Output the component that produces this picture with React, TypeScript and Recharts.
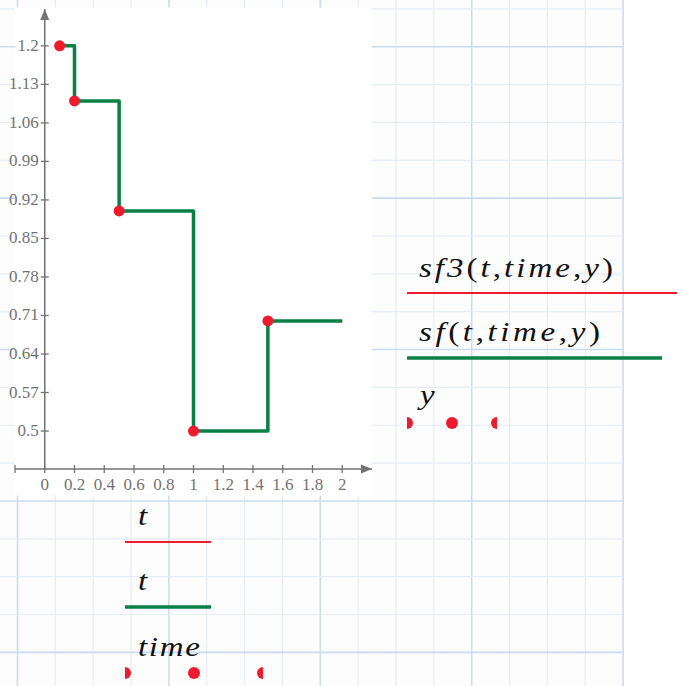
import { ComposedChart, Line, XAxis, YAxis, ReferenceLine, ReferenceDot } from 'recharts'

// sample instants and the values held from each one
const time = [0.1, 0.2, 0.5, 1, 1.5]
const y = [1.2, 1.1, 0.9, 0.5, 0.7]
const tEnd = 2

const xTicks = [-0.2, 0, 0.2, 0.4, 0.6, 0.8, 1, 1.2, 1.4, 1.6, 1.8, 2]
const yTicks = [0.5, 0.57, 0.64, 0.71, 0.78, 0.85, 0.92, 0.99, 1.06, 1.13, 1.2]

const X_DOMAIN: [number, number] = [-0.2, 2.2]
const Y_DOMAIN: [number, number] = [0.431, 1.267]

const W = 683
const H = 686
const PLOT_LEFT = 15
const PLOT_RIGHT = 372
const PLOT_TOP = 9
const AXIS_Y = 469
const X_AXIS_H = 30
const Y_AXIS_W = 1

const RED = '#ee1b2f'
const GREEN = '#0a8044'
const AXIS = '#737373'
const SERIF = 'Liberation Serif, Times New Roman, serif'
const MATH_STRETCH = 1.18

// pixel position of t = 0, where the vertical axis crosses
const axisX = PLOT_LEFT + ((0 - X_DOMAIN[0]) / (X_DOMAIN[1] - X_DOMAIN[0])) * (PLOT_RIGHT - PLOT_LEFT)

const rows = [
  ...time.map((t, i) => ({ t, sf: y[i], sf3: y[i], y: y[i] })),
  { t: tEnd, sf: y[y.length - 1], sf3: y[y.length - 1] },
]

function XTick(props: any) {
  const { x, y: ty, payload } = props
  const v = payload.value
  return (
    <g>
      <line x1={x} x2={x} y1={ty - 4} y2={ty + 4} stroke={AXIS} strokeWidth={1.3} />
      {v >= 0 && (
        <text x={x} y={ty + 21} textAnchor="middle" fill={AXIS} style={{ fontFamily: SERIF, fontSize: 17 }}>
          {String(v)}
        </text>
      )}
    </g>
  )
}

function YTick(props: any) {
  const { y: ty, payload } = props
  return (
    <g>
      <line x1={axisX - 4} x2={axisX + 4} y1={ty} y2={ty} stroke={AXIS} strokeWidth={1.3} />
      <text x={axisX - 6} y={ty + 5} textAnchor="end" fill={AXIS} style={{ fontFamily: SERIF, fontSize: 17 }}>
        {String(payload.value)}
      </text>
    </g>
  )
}

const upArrow = (p: any) => (
  <polygon points={`${p.cx},${p.cy} ${p.cx - 4.5},${p.cy + 11} ${p.cx + 4.5},${p.cy + 11}`} fill={AXIS} />
)
const rightArrow = (p: any) => (
  <polygon points={`${p.cx},${p.cy} ${p.cx - 11},${p.cy - 4.5} ${p.cx - 11},${p.cy + 4.5}`} fill={AXIS} />
)

// graph-paper worksheet background
function Paper() {
  const lines = []
  const x0 = 17.5
  const y0 = 8.9
  const step = 37.85
  const right = 622.3
  for (let k = 0; x0 + k * step <= right + 1; k++) {
    const x = x0 + k * step
    lines.push(
      <line key={'v' + k} x1={x} x2={x} y1={0} y2={H} stroke={k % 4 === 0 ? '#cadcef' : '#e4ecf5'} strokeWidth={k % 4 === 0 ? 1.6 : 1.2} />
    )
  }
  for (let k = 0; y0 + k * step <= H; k++) {
    const yy = y0 + k * step
    lines.push(
      <line key={'h' + k} x1={0} x2={right} y1={yy} y2={yy} stroke={k % 4 === 1 ? '#cadcef' : '#e4ecf5'} strokeWidth={k % 4 === 1 ? 1.6 : 1.2} />
    )
  }
  return (
    <svg width={W} height={H} style={{ position: 'absolute', left: 0, top: 0 }}>
      <rect x={0} y={0} width={right} height={H} fill="#fdfdfe" />
      {lines}
      <rect x={PLOT_LEFT} y={7.5} width={PLOT_RIGHT - PLOT_LEFT} height={488} fill="#ffffff" />
    </svg>
  )
}

// math-style label; glyphs widened a little, optionally spread to a given width
function MathLabel({ x, y: by, width, parts }: { x: number; y: number; width?: number; parts: [string, boolean][] }) {
  return (
    <g transform={`translate(${x},${by}) scale(${MATH_STRETCH},1)`}>
      <text
        x={0}
        y={0}
        fill="#111"
        style={{ fontFamily: SERIF, fontSize: 28 }}
        textLength={width ? width / MATH_STRETCH : undefined}
        lengthAdjust={width ? 'spacing' : undefined}
      >
        {parts.map(([s, it], i) => (
          <tspan key={i} style={{ fontStyle: it ? 'italic' : 'normal' }}>{s}</tspan>
        ))}
      </text>
    </g>
  )
}

function DotSample({ id, x1, x2, cy, centers }: { id: string; x1: number; x2: number; cy: number; centers: number[] }) {
  return (
    <g>
      <defs>
        <clipPath id={id}>
          <rect x={x1} y={cy - 8} width={x2 - x1} height={16} />
        </clipPath>
      </defs>
      <g clipPath={`url(#${id})`}>
        {centers.map(c => <circle key={c} cx={c} cy={cy} r={6} fill={RED} />)}
      </g>
    </g>
  )
}

function Labels() {
  return (
    <svg width={W} height={H} style={{ position: 'absolute', left: 0, top: 0 }}>
      <MathLabel x={419} y={277} width={194} parts={[['sf3', true], ['(', false], ['t', true], [',', false], ['time', true], [',', false], ['y', true], [')', false]]} />
      <line x1={407} x2={677} y1={293} y2={293} stroke={RED} strokeWidth={1.8} />
      <MathLabel x={419} y={341} width={181} parts={[['sf', true], ['(', false], ['t', true], [',', false], ['time', true], [',', false], ['y', true], [')', false]]} />
      <line x1={407} x2={662} y1={358} y2={358} stroke={GREEN} strokeWidth={3.5} />
      <MathLabel x={420} y={404} parts={[['y', true]]} />
      <DotSample id="ydots" x1={407} x2={497} cy={423} centers={[407, 452, 497]} />

      <MathLabel x={138} y={525} parts={[['t', true]]} />
      <line x1={125} x2={211} y1={542} y2={542} stroke={RED} strokeWidth={1.8} />
      <MathLabel x={138} y={590} parts={[['t', true]]} />
      <line x1={125} x2={211} y1={607} y2={607} stroke={GREEN} strokeWidth={3.5} />
      <MathLabel x={138} y={656} width={62} parts={[['time', true]]} />
      <DotSample id="tdots" x1={125} x2={263} cy={673} centers={[125, 194, 263]} />
    </svg>
  )
}

export default function App() {
  return (
    <div style={{ position: 'absolute', left: 0, top: 0, width: W, height: H, background: '#fff', overflow: 'hidden' }}>
      <Paper />
      <div style={{ position: 'absolute', left: 0, top: 0 }}>
        <ComposedChart
          width={W}
          height={H}
          data={rows}
          margin={{ top: PLOT_TOP, left: PLOT_LEFT - Y_AXIS_W, right: W - PLOT_RIGHT, bottom: H - AXIS_Y - X_AXIS_H }}
        >
          <XAxis
            type="number"
            dataKey="t"
            domain={X_DOMAIN}
            ticks={xTicks}
            allowDataOverflow
            height={X_AXIS_H}
            tickSize={0}
            tickMargin={0}
            tickLine={false}
            axisLine={{ stroke: AXIS, strokeWidth: 1.5 }}
            tick={<XTick />}
            interval={0}
          />
          <YAxis
            type="number"
            domain={Y_DOMAIN}
            ticks={yTicks}
            allowDataOverflow
            width={Y_AXIS_W}
            axisLine={false}
            tickLine={false}
            tick={<YTick />}
            interval={0}
          />
          <ReferenceLine x={0} stroke={AXIS} strokeWidth={1.5} />
          <ReferenceDot x={0} y={Y_DOMAIN[1]} shape={upArrow} ifOverflow="visible" />
          <ReferenceDot x={X_DOMAIN[1]} y={Y_DOMAIN[0]} shape={rightArrow} ifOverflow="visible" />
          <Line type="stepAfter" dataKey="sf3" stroke={RED} strokeWidth={2} dot={false} isAnimationActive={false} />
          <Line type="stepAfter" dataKey="sf" stroke={GREEN} strokeWidth={3.5} strokeLinejoin="round" dot={false} isAnimationActive={false} />
          <Line
            dataKey="y"
            stroke="none"
            dot={{ r: 5.5, fill: RED, stroke: 'none' }}
            activeDot={false}
            isAnimationActive={false}
          />
        </ComposedChart>
      </div>
      <Labels />
    </div>
  )
}
